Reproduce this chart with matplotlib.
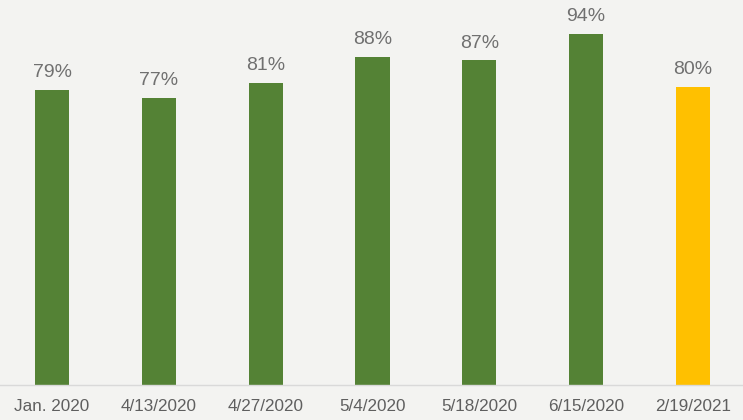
import numpy as np
import matplotlib
matplotlib.use("Agg")
import matplotlib.pyplot as plt

plt.rcParams["font.family"] = ["Liberation Sans", "DejaVu Sans"]

# Survey dates and share of positive responses (%)
dates = ["Jan. 2020", "4/13/2020", "4/27/2020", "5/4/2020", "5/18/2020", "6/15/2020", "2/19/2021"]
values = [79, 77, 81, 88, 87, 94, 80]
colors = ["#548235"] * 6 + ["#FFC000"]

BG = "#F3F3F1"

fig = plt.figure(figsize=(7.43, 4.2), dpi=100, facecolor=BG)
ax = fig.add_axes([0, 35 / 420, 1, 373 / 420], facecolor=BG)

x = np.arange(len(dates))
bars = ax.bar(x, values, width=0.32, color=colors, zorder=2)

for xi, v in zip(x, values):
    ax.text(xi, v + 2.4, f"{v}%", ha="center", va="bottom",
            fontsize=14, color="#707070", clip_on=False)

ax.set_xlim(-52 / 106.83, (743 - 52) / 106.83)
ax.set_ylim(0, 100)
ax.set_yticks([])
ax.set_xticks(x)
ax.set_xticklabels(dates, fontsize=12.3, color="#5F5F5F")
ax.tick_params(axis="x", length=0, pad=10)

for side in ("top", "left", "right"):
    ax.spines[side].set_visible(False)
ax.spines["bottom"].set_color("#D9D9D9")
ax.spines["bottom"].set_linewidth(1.0)

fig.savefig("out.png", dpi=100, facecolor=BG)
